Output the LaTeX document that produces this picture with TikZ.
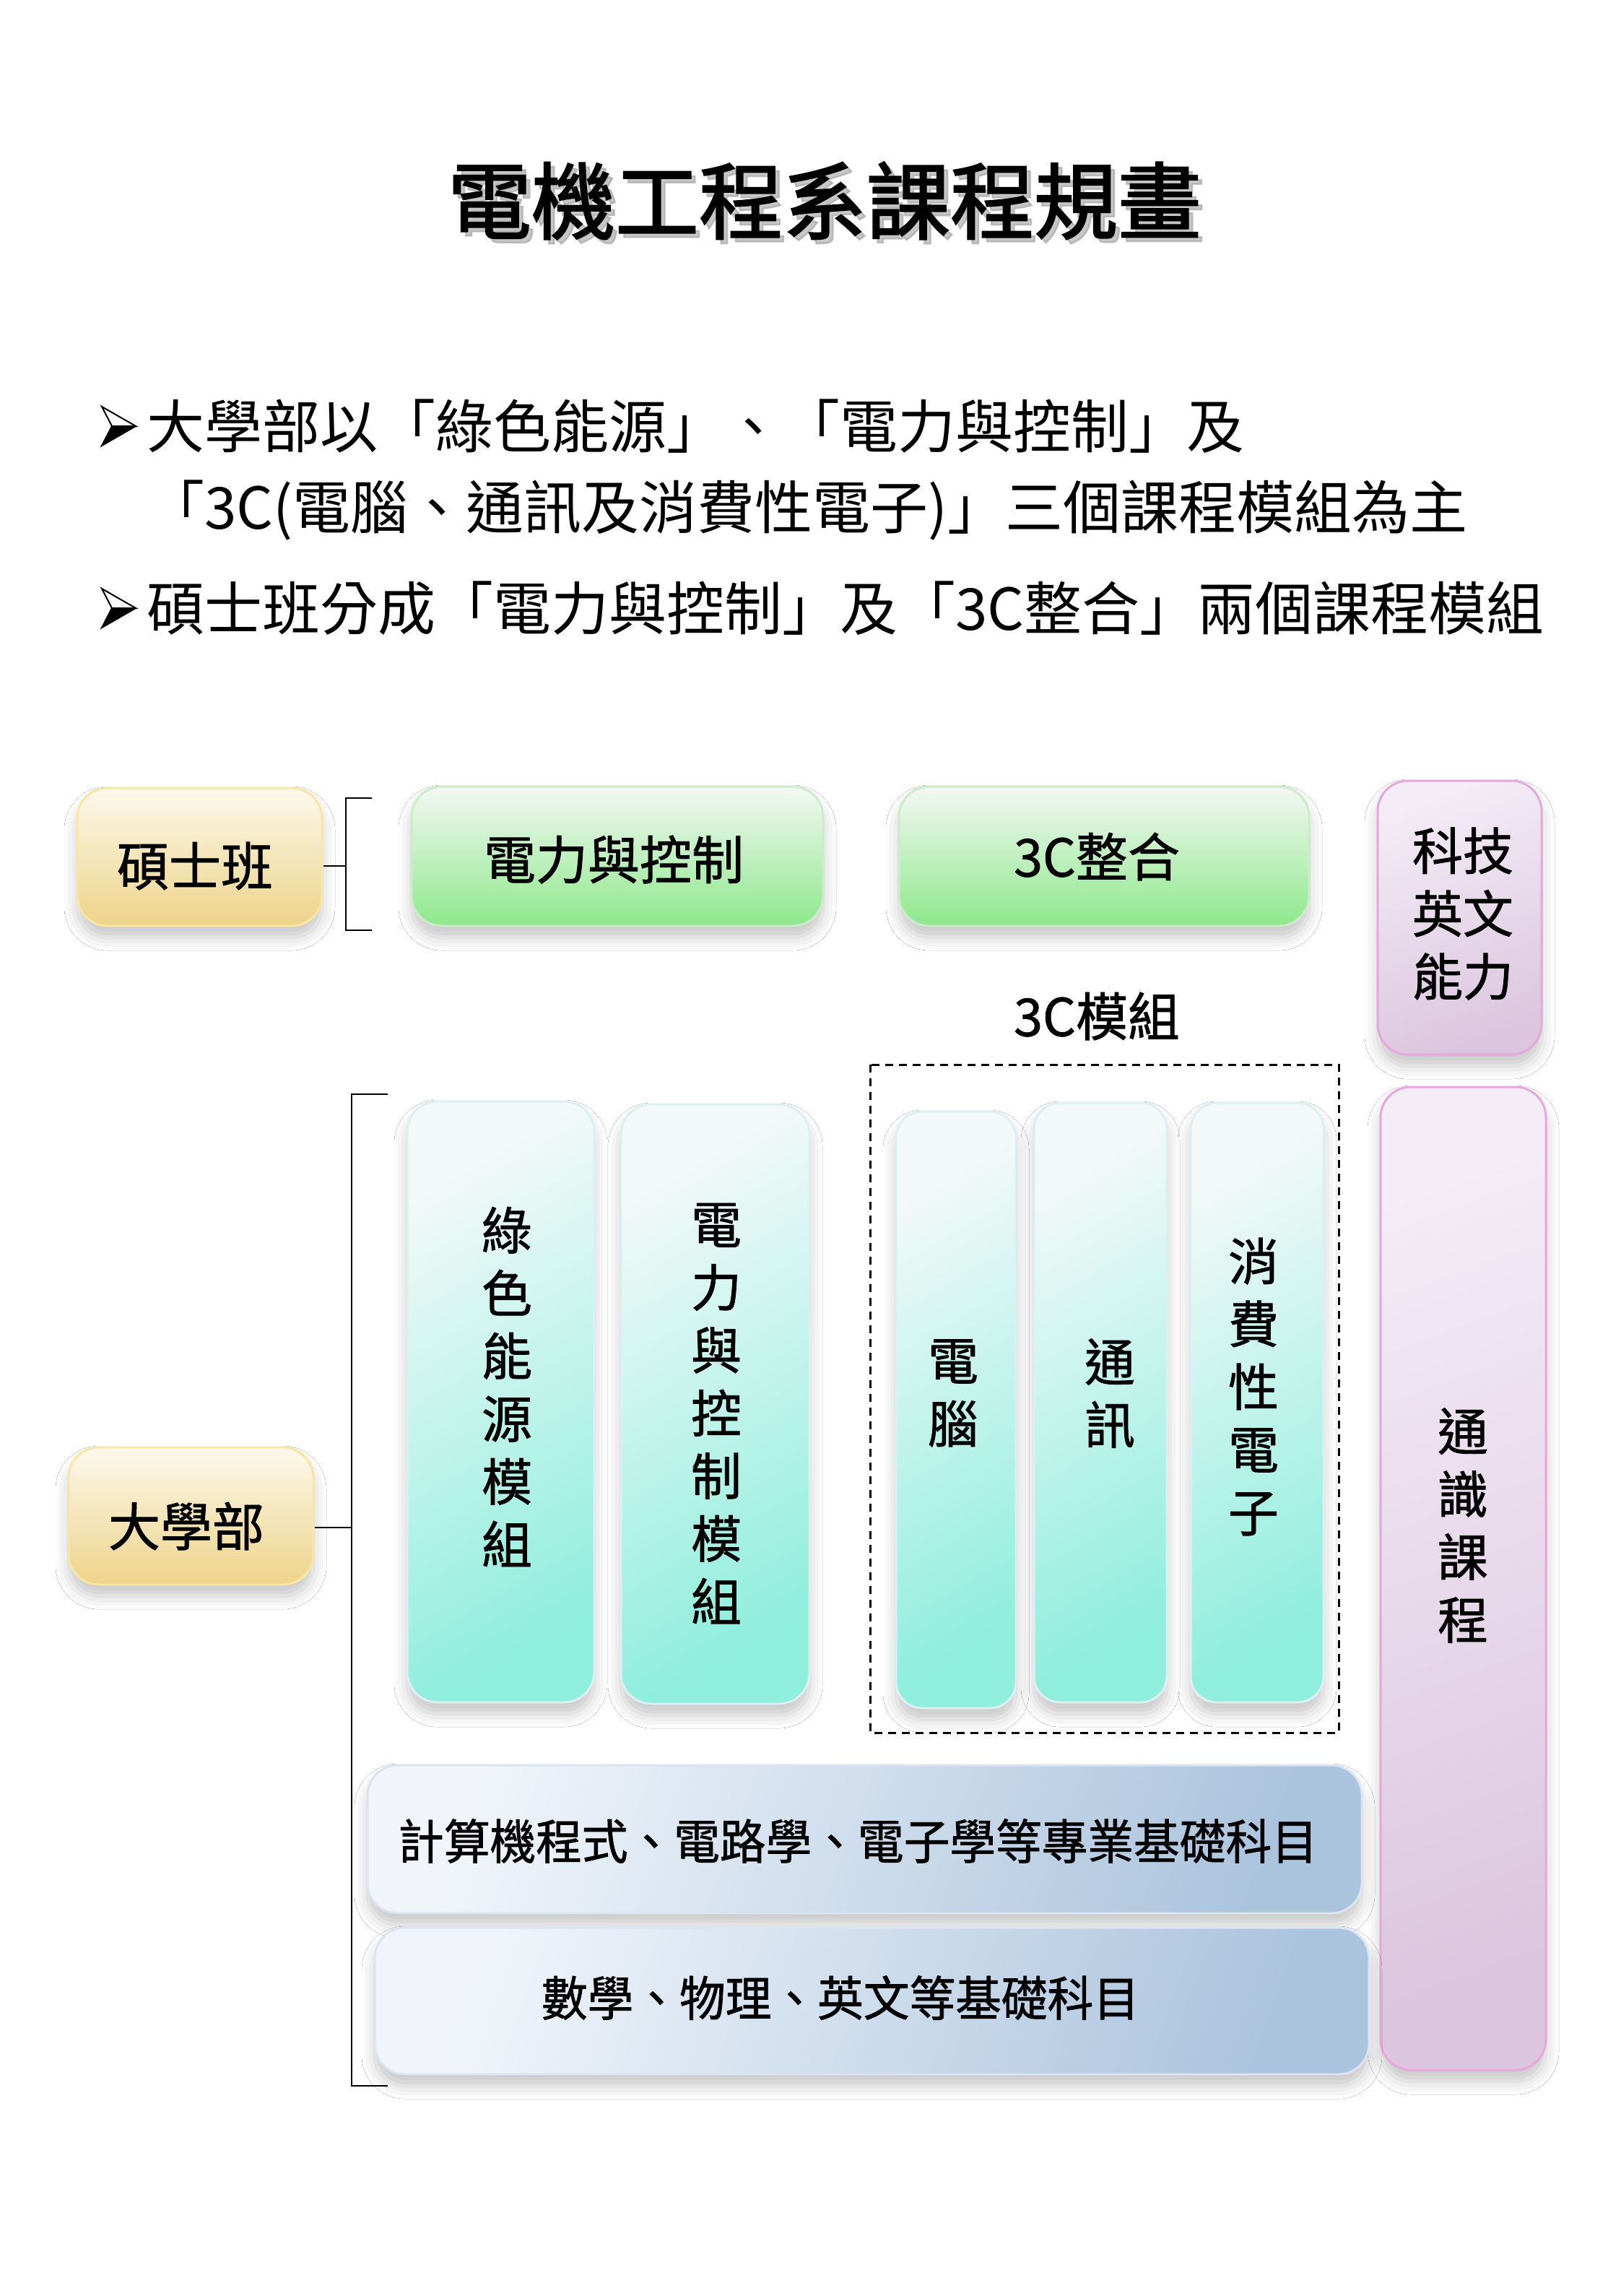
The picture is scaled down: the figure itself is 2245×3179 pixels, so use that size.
\documentclass[tikz,border=0pt]{standalone}
\usepackage{fontspec}
\newfontfamily\cjk{Noto Sans CJK TC}
\newfontfamily\cjkm{Noto Sans CJK TC}[FakeBold=1.2]
\newfontfamily\cjkt{Noto Sans CJK TC}[FakeBold=2]
\usetikzlibrary{shadows.blur}
\definecolor{yelTL}{HTML}{FCF8EC}
\definecolor{yelBR}{HTML}{EDD48A}
\definecolor{yelB}{HTML}{F9E6A2}
\definecolor{grnTL}{HTML}{F3F8F3}
\definecolor{grnBR}{HTML}{8EE88C}
\definecolor{grnB}{HTML}{CDEBCB}
\definecolor{teaTL}{HTML}{F3F9F9}
\definecolor{teaBR}{HTML}{90EEDD}
\definecolor{teaB}{HTML}{DCEFF4}
\definecolor{purTL}{HTML}{F4ECF7}
\definecolor{purBR}{HTML}{DCC6DF}
\definecolor{purB}{HTML}{E6A6DE}
\definecolor{bluTL}{HTML}{F1F5FB}
\definecolor{bluBR}{HTML}{ABC4DD}
\definecolor{bluB}{HTML}{DCE4F2}
\tikzset{
  box/.style={rounded corners=42pt, line width=3pt, inner sep=0pt, shading angle=45,
    blur shadow={shadow xshift=0pt, shadow yshift=-16pt, shadow blur radius=18pt, shadow opacity=22}},
  yelbox/.style={box, draw=yelB, top color=yelTL, bottom color=yelBR},
  grnbox/.style={box, draw=grnB, top color=grnTL, bottom color=grnBR},
  teabox/.style={box, draw=teaB, top color=teaTL, bottom color=teaBR, shading angle=30},
  purbox/.style={box, draw=purB, top color=purTL, bottom color=purBR, shading angle=20},
  blubox/.style={box, draw=bluB, top color=bluTL, bottom color=bluBR, shading angle=70},
  lbl/.style={font=\cjkm\fontsize{72}{87}\selectfont, inner sep=0pt, align=center},
  vlbl/.style={font=\cjkm\fontsize{70}{87}\selectfont, inner sep=0pt, align=center},
  hlbl/.style={font=\cjkm\fontsize{66}{80}\selectfont, inner sep=0pt, xscale=0.965},
  bul/.style={font=\cjk\fontsize{80}{90}\selectfont, inner sep=0pt, anchor=west},
  brk/.style={line width=2.5pt, black},
  pics/bularrow/.style={code={
    \fill[black] (47,0) -- (0,27) -- (14,0) -- cycle;
    \draw[line width=2pt, line join=miter, fill=white] (47,0) -- (0,-27) -- (14,0) -- cycle;
    \draw[line width=2pt, line join=miter] (47,0) -- (0,27) -- (14,0);
  }},
}
\begin{document}
\begin{tikzpicture}[x=1pt, y=-1pt]
\fill[white] (0,0) rectangle (2245,3179);
\useasboundingbox (0,0) rectangle (2245,3179);

% title
\node[font=\cjkt\fontsize{116}{130}\selectfont, text=black!40, opacity=0.55, inner sep=0pt] at (1148,284) {電機工程系課程規畫};
\node[font=\cjkt\fontsize{116}{130}\selectfont, inner sep=0pt] (title) at (1142,278) {電機工程系課程規畫};

% bullets
\pic at (141,590) {bularrow};
\node[bul] (b1) at (203,590) {大學部以「綠色能源」、「電力與控制」及};
\node[bul] (b2) at (203,706) {「3C(電腦、通訊及消費性電子)」三個課程模組為主};
\pic at (141,842) {bularrow};
\node[bul] (b3) at (203,842) {碩士班分成「電力與控制」及「3C整合」兩個課程模組};

% top row
\node[yelbox, minimum width=339, minimum height=191] (master) at (276.5,1186.5) {};
\node[lbl] at (270,1199) {碩士班};
\node[grnbox, minimum width=570, minimum height=193] (mpc) at (855,1185.5) {};
\node[lbl] at (850,1190) {電力與控制};
\node[grnbox, minimum width=568, minimum height=193] (m3c) at (1529,1185.5) {};
\node[lbl] at (1519,1186) {3C整合};
\node[purbox, minimum width=227, minimum height=379] (eng) at (2021.5,1270.5) {};
\node[vlbl] at (2026,1265) {科技\\英文\\能力};

% bracket for master
\coordinate (k1t) at (479,1105);
\coordinate (k1b) at (479,1288);
\draw[brk] (515,1105) -- (k1t) -- (k1b) -- (515,1288);
\draw[brk] (master.east |- 0,1199) -- (k1t |- 0,1199);

% 3C module label and dashed frame
\node[lbl] (lab3c) at (1519,1407) {3C模組};
\draw[line width=3pt, dash pattern=on 11pt off 8pt] (1205,1474) rectangle (1854,2399);

% undergraduate
\node[yelbox, minimum width=339, minimum height=190] (under) at (264.5,2099) {};
\node[lbl] at (258,2113) {大學部};
\coordinate (k2t) at (487,1515);
\coordinate (k2b) at (487,2888);
\draw[brk] (537,1515) -- (k2t) -- (k2b) -- (537,2888);
\draw[brk] (under.east |- 0,2115) -- (k2t |- 0,2115);

% vertical module boxes
\node[teabox, minimum width=259, minimum height=832] (green) at (693.5,1941) {};
\node[vlbl] at (702,1920) {綠\\色\\能\\源\\模\\組};
\node[teabox, minimum width=261, minimum height=830] (pc) at (990.5,1944) {};
\node[vlbl] at (992,1957) {電\\力\\與\\控\\制\\模\\組};
\node[teabox, rounded corners=36pt, minimum width=166, minimum height=826] (comp) at (1324,1952) {};
\node[vlbl] at (1320,1929) {電\\腦};
\node[teabox, rounded corners=36pt, minimum width=184, minimum height=830] (comm) at (1524,1942) {};
\node[vlbl] at (1537,1929) {通\\訊};
\node[teabox, rounded corners=36pt, minimum width=184, minimum height=830] (cons) at (1741,1942) {};
\node[vlbl] at (1736,1920) {消\\費\\性\\電\\子};

% general education
\node[purbox, minimum width=229, minimum height=1361] (gen) at (2026.5,2185.5) {};
\node[vlbl] at (2026,2112) {通\\識\\課\\程};

% horizontal foundation boxes
\node[blubox, minimum width=1377, minimum height=205] (prof) at (1197.5,2546.5) {};
\node[hlbl] at (1188,2549) {計算機程式、電路學、電子學等專業基礎科目};
\node[blubox, minimum width=1377, minimum height=203] (basic) at (1207.5,2770.5) {};
\node[hlbl] at (1164,2766) {數學、物理、英文等基礎科目};
\end{tikzpicture}
\end{document}
